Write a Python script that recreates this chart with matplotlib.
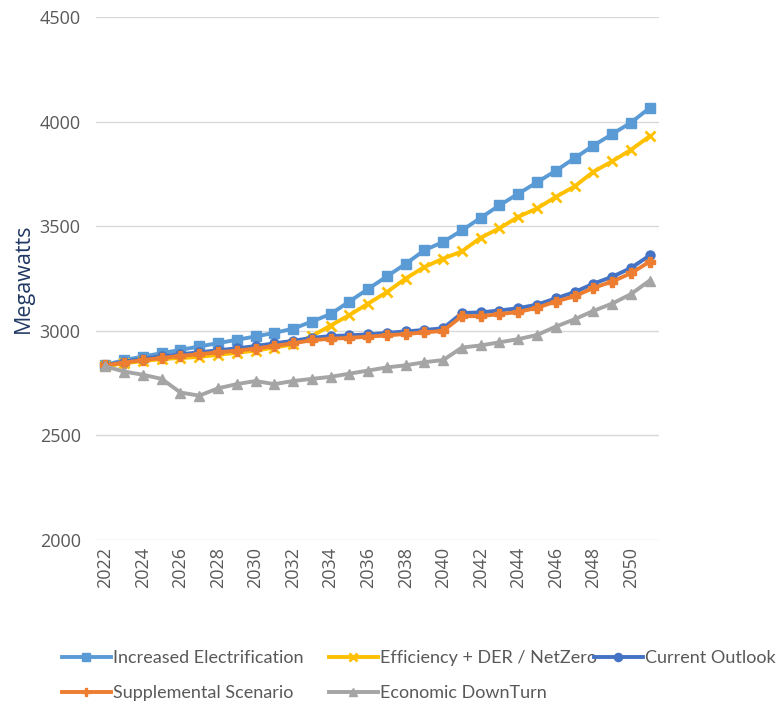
import matplotlib
matplotlib.use("Agg")
import matplotlib.pyplot as plt
from matplotlib import font_manager

years = list(range(2022, 2052))

increased_electrification = [2837, 2860, 2877, 2893, 2909, 2925, 2941, 2957, 2973, 2990,
                             3010, 3044, 3080, 3140, 3200, 3260, 3320, 3385, 3425, 3480,
                             3540, 3600, 3655, 3710, 3765, 3825, 3885, 3940, 3995, 4065]
efficiency_der_netzero = [2830, 2845, 2855, 2865, 2870, 2875, 2885, 2895, 2905, 2920,
                          2935, 2975, 3025, 3075, 3130, 3185, 3250, 3305, 3345, 3380,
                          3445, 3490, 3545, 3585, 3640, 3690, 3760, 3810, 3865, 3930]
current_outlook = [2835, 2852, 2866, 2878, 2888, 2897, 2907, 2916, 2927, 2940,
                   2952, 2966, 2975, 2978, 2983, 2990, 2997, 3004, 3012, 3085,
                   3088, 3097, 3108, 3125, 3155, 3185, 3225, 3258, 3300, 3360]
supplemental_scenario = [2835, 2848, 2860, 2870, 2880, 2888, 2897, 2905, 2915, 2928,
                         2940, 2955, 2962, 2966, 2972, 2978, 2985, 2992, 3000, 3070,
                         3070, 3080, 3090, 3110, 3140, 3165, 3205, 3235, 3275, 3330]
economic_downturn = [2830, 2805, 2790, 2770, 2705, 2690, 2725, 2745, 2760, 2745,
                     2760, 2770, 2780, 2795, 2810, 2825, 2835, 2850, 2860, 2920,
                     2930, 2945, 2960, 2980, 3020, 3055, 3095, 3130, 3175, 3240]

series_names = ["Increased Electrification", "Efficiency + DER / NetZero",
                "Current Outlook", "Supplemental Scenario", "Economic DownTurn"]
series_values = [increased_electrification, efficiency_der_netzero, current_outlook,
                 supplemental_scenario, economic_downturn]
colors = ["#5B9BD5", "#FFC000", "#4472C4", "#ED7D31", "#A5A5A5"]
markers = ["s", "x", "o", "P", "^"]

yticks = [2000, 2500, 3000, 3500, 4000, 4500]
xtick_years = list(range(2022, 2051, 2))

avail = {f.name for f in font_manager.fontManager.ttflist}
tick_font = "Open Sans" if "Open Sans" in avail else "DejaVu Sans"
leg_font = "Lato" if "Lato" in avail else "Liberation Sans"

fig = plt.figure(figsize=(7.81, 7.08), dpi=100)
ax = fig.add_axes([96 / 781, 1 - 540 / 708, 563 / 781, 523 / 708])

lines = []
for i, (name, vals, c, m) in enumerate(zip(series_names, series_values, colors, markers)):
    mew = 2 if m == "x" else 1
    ln, = ax.plot(years, vals, color=c, lw=2.8, marker=m, markersize=6.5,
                  markeredgewidth=mew, markeredgecolor=c, markerfacecolor=c,
                  label=name, zorder=3 + i)
    lines.append(ln)

ax.set_xlim(years[0] - 0.5, years[-1] + 0.5)
ax.set_ylim(2000, 4500)
ax.set_yticks(yticks)
ax.set_xticks(xtick_years)
ax.set_xticklabels([str(y) for y in xtick_years], rotation=90)
ax.tick_params(axis="y", length=0, labelsize=13, labelcolor="#595959", pad=11)
ax.tick_params(axis="x", length=0, labelsize=13, labelcolor="#595959", pad=5)
for lab in ax.get_xticklabels() + ax.get_yticklabels():
    lab.set_fontfamily(tick_font)
ax.grid(axis="y", color="#D9D9D9", lw=1)
ax.set_axisbelow(True)
for s in ax.spines.values():
    s.set_visible(False)

ax.set_ylabel("Megawatts", fontsize=15.5, color="#203864", fontfamily=tick_font)
ax.yaxis.set_label_coords(-0.11, 0.5)

# legend laid out in three columns, rows: [IE, Eff, CO], [SS, ED]
columns = [[0, 3], [1, 4], [2]]
col_x = [62, 329, 594]
for idx, x0 in zip(columns, col_x):
    fig.legend([lines[k] for k in idx], [series_names[k] for k in idx],
               loc="upper left", bbox_to_anchor=(x0 / 781, 1 - 650 / 708),
               frameon=False, prop={"family": leg_font, "size": 13},
               handlelength=2.7, handletextpad=0.1, borderpad=0, borderaxespad=0,
               labelcolor="#595959", labelspacing=1.05, markerscale=0.9)

fig.savefig("out.png", dpi=100, facecolor="white")
